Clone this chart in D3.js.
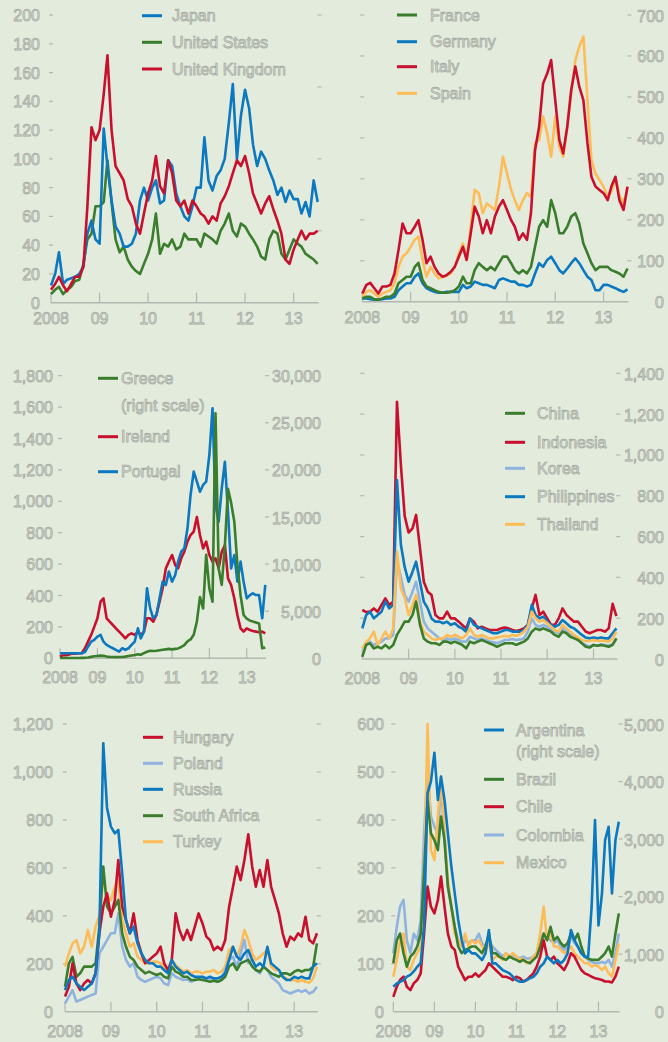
<!DOCTYPE html>
<html lang="en">
<head>
<meta charset="UTF-8">
<title>Sovereign CDS spreads</title>
<style>
  body { margin: 0; background: #e3ebdc; }
  svg text { font-family: "Liberation Sans", Arial, sans-serif; }
</style>
</head>
<body>
<script src="https://cdn.jsdelivr.net/npm/d3@7"></script>
<script>
// monthly readings, Jan 2008 .. Jul 2013 (67 points each)
const yearLabels = ['2008', '09', '10', '11', '12', '13'];

// panel 1
const japan = [12,20,35,13,16,17,18,20,25,48,57,44, 41,121,95,71,53,48,39,39,41,48,71,80, 71,80,85,69,71,99,95,76,67,60,57,67, 80,80,115,85,78,88,92,100,125,152,100,130, 148,135,110,95,105,100,92,85,75,80,70,78, 72,72,62,70,60,85,70];
const unitedStates = [6,9,11,6,9,11,15,16,27,44,48,67, 67,70,99,70,44,35,39,30,25,22,20,27, 34,44,62,34,41,39,44,37,39,48,44,44, 44,39,48,46,44,41,50,55,62,50,46,55, 53,48,44,39,32,30,44,50,48,34,30,37, 44,41,39,34,32,30,27];
const unitedKingdom = [9,13,18,12,8,13,18,18,25,67,122,113, 120,145,172,120,95,90,85,72,67,55,48,62, 76,85,102,81,76,99,90,71,67,71,62,71, 67,62,60,55,60,57,69,74,81,90,99,95, 102,90,76,69,62,69,74,65,57,48,30,27, 37,44,50,44,48,48,50];

// panel 2
const france = [8,12,12,6,5,8,12,12,20,45,53,61, 61,85,95,53,37,33,28,24,22,22,24,28, 37,61,45,45,77,94,85,77,85,77,94,110, 110,94,77,69,77,69,85,134,183,199,183,248, 216,167,167,183,208,216,191,142,118,94,77,85, 85,85,77,73,69,61,81];
const germany = [8,8,6,5,5,6,8,8,12,28,37,45, 45,61,69,45,33,28,24,22,22,24,24,24, 24,41,33,37,49,45,41,41,37,33,53,57, 53,49,49,41,41,37,41,69,94,85,102,110, 94,77,69,81,94,106,94,77,61,53,28,28, 41,41,37,33,28,24,30];
const italy = [20,41,46,33,20,37,37,41,69,126,191,167, 167,183,199,151,94,110,85,69,61,65,73,85, 110,134,102,167,232,208,167,199,167,208,232,248, 224,199,183,151,167,151,216,370,427,533,557,590, 492,395,362,427,517,574,525,492,387,305,281,273, 265,248,281,305,248,224,281];
const spain = [12,24,28,20,12,20,24,28,45,85,110,118, 134,151,159,102,61,85,69,57,61,63,69,85, 118,142,102,183,273,265,216,240,232,224,281,354, 313,273,248,224,248,265,256,387,395,452,411,354, 452,378,354,427,509,590,623,647,492,346,313,297, 281,255,270,300,260,240,275];

// panel 3 (Greece on the right scale)
const greece = [25,25,30,30,30,35,35,40,50,80,150,220, 250,280,260,180,150,130,120,130,140,180,250,300, 350,420,380,550,700,800,780,800,850,900,950,1000, 950,1000,1050,1200,1400,1800,2000,2500,3900,6500,5300,11000, 7400,6000,26000,9500,7800,12000,18000,16500,14500,10000,6700,4600, 4200,4000,3900,3800,3700,1060,1150];
const ireland = [10,20,20,25,30,30,32,32,64,106,149,200, 255,361,382,255,233,212,191,170,149,127,149,159, 149,170,149,170,255,255,233,276,361,446,573,616, 658,594,573,637,679,743,785,807,900,785,700,743, 658,616,637,573,679,722,509,467,382,276,191,170, 191,180,174,170,166,170,159];
const portugal = [32,32,32,32,32,32,32,32,40,74,106,117, 138,149,106,85,74,64,53,42,64,53,64,85, 106,191,127,170,446,318,255,276,382,488,467,552, 488,531,616,679,700,828,1040,1189,1125,1061,1104,1125, 1295,1592,976,870,1083,1252,934,573,658,488,616,488, 382,403,414,403,403,255,467];

// panel 4
const china = [10,70,77,52,60,52,69,52,69,118,150,183, 183,216,281,167,101,85,77,77,69,85,85,77, 85,77,69,52,85,77,85,93,85,77,69,60, 69,77,77,77,69,77,85,101,134,150,142,150, 142,134,118,109,134,126,109,101,93,77,60,56, 69,65,69,65,60,69,101];
const indonesia = [240,230,232,248,232,265,297,265,281,1260,950,700, 620,640,706,542,379,330,314,216,199,199,232,199, 199,183,167,150,199,183,150,158,150,142,142,142, 150,154,150,142,137,142,150,167,248,314,216,232, 199,167,167,199,248,216,199,183,183,158,134,126, 134,142,142,134,150,270,210];
const korea = [52,69,85,69,77,85,101,101,118,480,400,314, 281,330,379,281,183,150,134,118,101,93,101,93, 101,93,85,85,109,101,93,101,93,85,82,77, 85,93,93,98,93,96,101,134,199,167,158,167, 158,142,134,126,150,134,118,109,93,77,69,60, 69,65,72,69,65,72,101];
const philippines = [150,216,232,199,216,232,281,248,265,877,560,450, 379,428,477,379,281,248,199,183,183,175,183,167, 175,158,150,134,199,167,158,150,142,134,126,126, 134,142,142,134,134,134,142,167,265,216,199,208, 183,167,158,167,191,175,158,150,134,118,105,101, 105,101,105,101,101,126,150];
const thailand = [52,85,101,134,69,101,134,101,150,526,346,300, 216,265,314,183,134,118,101,93,101,101,118,109, 118,109,101,118,150,118,109,118,109,101,101,105, 109,114,109,118,114,121,134,158,232,199,183,191, 175,158,142,134,167,150,134,118,105,93,88,88, 93,88,91,88,85,101,134];

// panel 5
const hungary = [63,104,202,118,90,118,132,118,160,327,438,494, 396,466,633,438,382,327,410,299,243,202,216,229, 243,271,202,174,216,410,341,299,341,299,355,410, 368,313,299,257,271,257,299,438,521,605,549,633, 740,605,521,591,521,633,521,466,410,327,271,313, 299,327,313,396,299,285,327];
const poland = [35,63,90,42,49,56,63,70,76,243,271,299, 327,327,410,271,216,188,202,146,132,125,132,139, 146,139,118,111,160,146,139,132,135,125,132,139, 139,139,139,132,125,132,174,216,229,188,243,299, 202,216,174,160,188,174,146,132,118,90,83,76, 83,90,83,90,76,83,104];
const russia = [90,132,146,118,104,90,104,118,160,330,1120,850, 772,744,758,577,382,327,355,285,243,216,202,202, 188,188,174,160,216,188,174,160,167,153,146,146, 146,139,146,139,139,146,160,216,271,230,216,243, 257,216,188,202,188,271,202,188,174,146,132,132, 146,139,146,139,139,188,202];
const southAfrica = [104,202,229,146,160,188,188,188,202,355,605,438, 410,438,466,327,271,229,216,188,174,160,167,160, 153,160,146,139,188,167,160,146,146,132,132,135, 132,129,125,129,125,132,146,188,202,174,202,209, 216,188,174,167,188,174,160,153,146,160,160,153, 167,174,167,174,174,188,285];
const turkey = [188,243,285,299,243,271,341,271,355,400,560,480, 466,521,549,382,327,271,285,229,216,202,202,209, 209,202,181,167,216,195,181,167,174,160,167,167, 160,167,167,174,160,167,188,257,271,229,271,341, 299,243,216,229,243,257,188,174,174,146,139,132, 132,125,132,125,121,139,188];

// panel 6 (Argentina on the right scale)
const argentina = [435,490,520,550,610,640,700,780,850,1500,3800,4000, 4500,3680,4085,3680,3100,2520,2057,1593,1246,1014,1072,1014, 1014,956,898,1014,1419,840,840,782,724,695,666,608, 550,521,521,550,579,608,666,782,840,956,898,840, 898,840,898,1014,1419,1246,1130,1014,956,956,1825,3331, 1500,2057,2984,3215,2057,2984,3300];
const brazil = [101,149,163,122,94,115,122,136,163,289,441,372, 358,337,407,358,261,219,177,136,122,129,132,136, 136,129,122,136,163,122,122,115,111,108,115,111, 108,104,108,104,101,108,115,136,163,149,177,149, 156,143,136,143,163,149,163,136,115,111,108,108, 108,115,122,136,115,163,205];
const chile = [31,52,66,73,52,45,59,66,80,163,261,219, 205,233,282,219,163,136,129,94,80,66,73,73, 80,73,80,87,101,94,87,80,73,73,70,66, 73,70,63,66,73,80,94,115,149,115,108,115, 101,94,87,101,122,115,101,87,80,77,73,70, 68,66,63,63,61,73,94];
const colombia = [122,177,219,233,149,122,163,149,191,372,500,407, 386,372,476,358,261,219,177,149,136,149,143,149, 149,163,143,136,149,136,129,122,115,122,115,118, 115,111,115,111,111,115,122,149,163,156,149,143, 149,136,129,136,156,143,136,122,115,108,104,101, 101,104,101,108,94,122,163];
const mexico = [73,108,149,163,94,87,108,122,136,275,600,337, 316,407,490,372,275,219,163,149,136,163,136,149, 143,149,136,122,149,108,115,115,108,122,115,122, 115,108,111,101,104,115,122,163,219,149,163,136, 136,129,122,129,136,122,115,108,101,101,94,97, 94,87,94,80,73,108,143];

const W = 668, H = 1042;
const BLUE = '#0b78c0', GREEN = '#3a7d2c', RED = '#c8102e', YELLOW = '#fdbc58', LIGHT = '#8fb3df';
const TEXT_FILL = '#dce2d7', TEXT_STROKE = '#a4a9a1', AXIS = '#b3b8af';

const svg = d3.select('body').append('svg')
    .attr('width', W)
    .attr('height', H);

svg.append('rect').attr('width', W).attr('height', H).attr('fill', '#e3ebdc');

const months = japan.map((d, i) => new Date(2008, i, 1));
const timeDomain = [new Date(2008, 0, 1), new Date(2013, 6, 8)];
const fmt = d3.format(',');

const panels = [
    {
        x0: 51, x1: 318.6, y0: 302.7, yTop: 15, xLabelDy: 21,
        left: { max: 200, step: 20, labels: true, labelX: 40 },
        right: { max: 4, step: 1, labels: false },
        series: [[unitedStates, GREEN, 'left'], [japan, BLUE, 'left'], [unitedKingdom, RED, 'left']],
        legend: { lineX: 142, textX: 172, items: [['Japan', BLUE, 15.7], ['United States', GREEN, 42.3], ['United Kingdom', RED, 69]] }
    },
    {
        x0: 362.3, x1: 628.4, y0: 301.7, yTop: 15, xLabelDy: 21,
        left: { max: 700, step: 100, labels: false },
        right: { max: 700, step: 100, labels: true, labelX: 664 },
        series: [[spain, YELLOW, 'right'], [italy, RED, 'right'], [germany, BLUE, 'right'], [france, GREEN, 'right']],
        legend: { lineX: 397, textX: 430, items: [['France', GREEN, 15], ['Germany', BLUE, 41.7], ['Italy', RED, 66.7], ['Spain', YELLOW, 93.3]] }
    },
    {
        x0: 60, x1: 266, y0: 658.3, yTop: 375.7, xLabelDy: 25,
        left: { max: 1800, step: 200, labels: true, labelX: 53 },
        right: { max: 30000, step: 5000, labels: true, labelX: 321 },
        series: [[ireland, RED, 'left'], [portugal, BLUE, 'left'], [greece, GREEN, 'right']],
        legend: { lineX: 98, textX: 121, items: [['Greece', GREEN, 378.3], ['(right scale)', null, 405], ['Ireland', RED, 436.7], ['Portugal', BLUE, 471.7]] }
    },
    {
        x0: 362.3, x1: 617.3, y0: 659, yTop: 373.3, xLabelDy: 25,
        left: { max: 1400, step: 200, labels: false },
        right: { max: 1400, step: 200, labels: true, labelX: 664 },
        series: [[indonesia, RED, 'right'], [philippines, BLUE, 'right'], [korea, LIGHT, 'right'], [thailand, YELLOW, 'right'], [china, GREEN, 'right']],
        legend: { lineX: 505, textX: 537, items: [['China', GREEN, 413.3], ['Indonesia', RED, 442.3], ['Korea', LIGHT, 468.3], ['Philippines', BLUE, 496.7], ['Thailand', YELLOW, 524.3]] }
    },
    {
        x0: 65, x1: 317.8, y0: 1011.7, yTop: 724, xLabelDy: 25,
        left: { max: 1200, step: 200, labels: true, labelX: 53 },
        right: { max: 1200, step: 200, labels: false },
        series: [[turkey, YELLOW, 'left'], [poland, LIGHT, 'left'], [southAfrica, GREEN, 'left'], [hungary, RED, 'left'], [russia, BLUE, 'left']],
        legend: { lineX: 143, textX: 173, items: [['Hungary', RED, 737.3], ['Poland', LIGHT, 763.3], ['Russia', BLUE, 789.3], ['South Africa', GREEN, 815.7], ['Turkey', YELLOW, 841.7]] }
    },
    {
        x0: 393.3, x1: 619.6, y0: 1011.7, yTop: 724, xLabelDy: 25,
        left: { max: 600, step: 100, labels: true, labelX: 384 },
        right: { max: 5000, step: 1000, labels: true, labelX: 664 },
        series: [[colombia, LIGHT, 'left'], [mexico, YELLOW, 'left'], [brazil, GREEN, 'left'], [chile, RED, 'left'], [argentina, BLUE, 'right']],
        legend: { lineX: 484, textX: 516, items: [['Argentina', BLUE, 730], ['(right scale)', null, 751.7], ['Brazil', GREEN, 779.3], ['Chile', RED, 806.7], ['Colombia', LIGHT, 835], ['Mexico', YELLOW, 862.7]] }
    }
];

function label(g, x, y, txt, anchor) {
    return g.append('text')
        .attr('x', x)
        .attr('y', y)
        .attr('text-anchor', anchor)
        .attr('font-size', 16)
        .attr('fill', TEXT_FILL)
        .attr('stroke', TEXT_STROKE)
        .attr('stroke-width', 0.75)
        .text(txt);
}

panels.forEach(p => {
    const g = svg.append('g');
    const x = d3.scaleTime().domain(timeDomain).range([p.x0, p.x1]);
    const yL = d3.scaleLinear().domain([0, p.left.max]).range([p.y0, p.yTop]);
    const yR = d3.scaleLinear().domain([0, p.right.max]).range([p.y0, p.yTop]);

    // left side ticks
    d3.range(0, p.left.max + 1, p.left.step).forEach(v => {
        if (v > 0) {
            g.append('line')
                .attr('x1', p.x0 - 2).attr('x2', p.x0 + 2)
                .attr('y1', yL(v)).attr('y2', yL(v))
                .attr('stroke', AXIS).attr('stroke-width', 1.2);
        }
        if (p.left.labels) label(g, p.left.labelX, yL(v) + 6, fmt(v), 'end');
    });

    // right side ticks
    d3.range(0, p.right.max + 1, p.right.step).forEach(v => {
        if (v > 0) {
            g.append('line')
                .attr('x1', p.x1 - 1).attr('x2', p.x1 + 3)
                .attr('y1', yR(v)).attr('y2', yR(v))
                .attr('stroke', AXIS).attr('stroke-width', 1.2);
        }
        if (p.right.labels) label(g, p.right.labelX, yR(v) + 6.5, fmt(v), 'end');
    });

    // time axis
    g.append('line')
        .attr('x1', p.x0).attr('x2', p.x1)
        .attr('y1', p.y0).attr('y2', p.y0)
        .attr('stroke', AXIS).attr('stroke-width', 1.5);

    yearLabels.forEach((t, i) => {
        const xp = x(new Date(2008 + i, 0, 1));
        g.append('line')
            .attr('x1', xp).attr('x2', xp)
            .attr('y1', p.y0).attr('y2', p.y0 - 10)
            .attr('stroke', AXIS).attr('stroke-width', 1.2);
        label(g, xp, p.y0 + p.xLabelDy, t, 'middle');
    });

    // series
    p.series.forEach(([vals, color, side]) => {
        const y = side === 'right' ? yR : yL;
        const line = d3.line()
            .x((d, i) => x(months[i]))
            .y(d => y(d));
        g.append('path')
            .datum(vals)
            .attr('d', line)
            .attr('fill', 'none')
            .attr('stroke', color)
            .attr('stroke-width', 2.6)
            .attr('stroke-linejoin', 'round');
    });

    // legend
    p.legend.items.forEach(([name, color, ly]) => {
        if (color) {
            g.append('line')
                .attr('x1', p.legend.lineX).attr('x2', p.legend.lineX + 20)
                .attr('y1', ly).attr('y2', ly)
                .attr('stroke', color).attr('stroke-width', 3);
        }
        label(g, p.legend.textX, ly + 5.7, name, 'start');
    });
});
</script>
</body>
</html>
